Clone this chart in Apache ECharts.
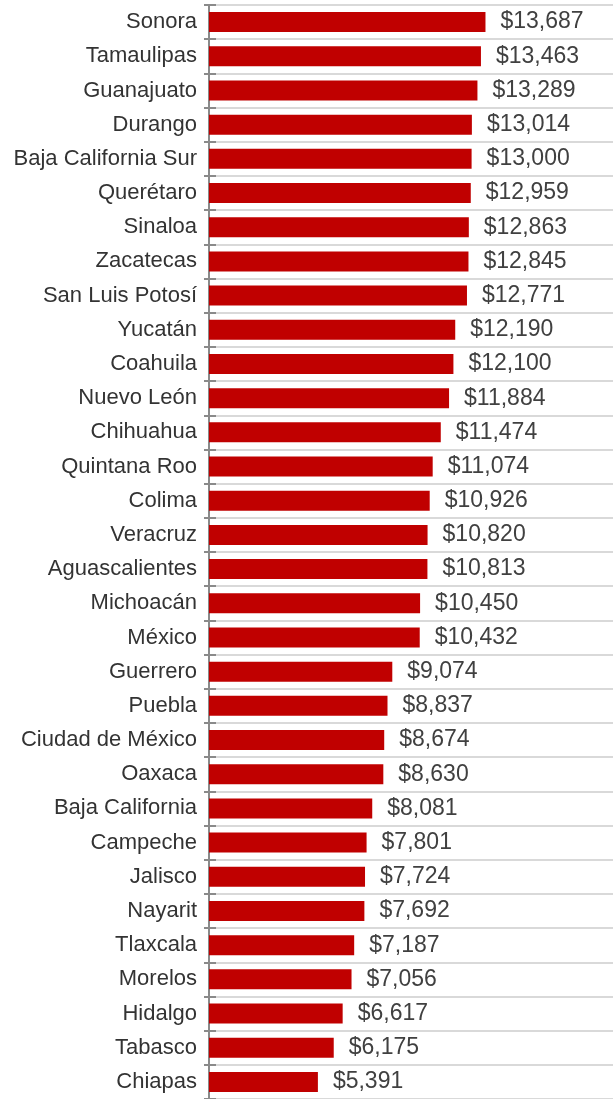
<!DOCTYPE html>
<html>
<head>
<meta charset="utf-8">
<script src="https://cdn.jsdelivr.net/npm/echarts@6/dist/echarts.min.js"></script>
<style>
  html, body { margin: 0; padding: 0; background: #fff; }
  #chart { width: 613px; height: 1099px; }
</style>
</head>
<body>
<div id="chart"></div>
<script>
var states = ['Sonora', 'Tamaulipas', 'Guanajuato', 'Durango', 'Baja California Sur', 'Querétaro',
  'Sinaloa', 'Zacatecas', 'San Luis Potosí', 'Yucatán', 'Coahuila', 'Nuevo León', 'Chihuahua',
  'Quintana Roo', 'Colima', 'Veracruz', 'Aguascalientes', 'Michoacán', 'México', 'Guerrero',
  'Puebla', 'Ciudad de México', 'Oaxaca', 'Baja California', 'Campeche', 'Jalisco', 'Nayarit',
  'Tlaxcala', 'Morelos', 'Hidalgo', 'Tabasco', 'Chiapas'];
var values = [13687, 13463, 13289, 13014, 13000, 12959, 12863, 12845, 12771, 12190, 12100, 11884,
  11474, 11074, 10926, 10820, 10813, 10450, 10432, 9074, 8837, 8674, 8630, 8081, 7801, 7724,
  7692, 7187, 7056, 6617, 6175, 5391];

var font = 'Liberation Sans';
var myChart = echarts.init(document.getElementById('chart'));
var option = {
    animation: false,
    grid: { left: 209, right: 0, top: 5, bottom: -1 },
    xAxis: {
        type: 'value',
        min: 0,
        max: 20000,
        show: false
    },
    yAxis: [{
        type: 'category',
        data: states,
        inverse: true,
        axisLine: { show: true, lineStyle: { color: '#8a8a8a', width: 2 } },
        axisTick: { show: true, interval: 0, length: 5, lineStyle: { color: '#8a8a8a', width: 2 } },
        axisLabel: { color: '#333', fontFamily: font, fontSize: 22, margin: 12 },
        splitLine: { show: true, lineStyle: { color: '#d9d9d9', width: 2 } }
    }, {
        // second axis for the inner half of the ticks
        type: 'category',
        data: states,
        inverse: true,
        position: 'left',
        z: 5,
        axisLine: { show: false },
        axisTick: { show: true, interval: 0, inside: true, length: 7, lineStyle: { color: '#8a8a8a', width: 2 } },
        axisLabel: { show: false },
        splitLine: { show: false }
    }],
    series: [{
        type: 'bar',
        data: values,
        barWidth: 20,
        itemStyle: { color: '#C00000' },
        label: {
            show: true,
            position: 'right',
            distance: 15,
            color: '#404040',
            fontFamily: font,
            fontSize: 23,
            formatter: function (p) {
                return '$' + p.value.toLocaleString('en-US');
            }
        }
    }]
};
myChart.setOption(option);
</script>
</body>
</html>
